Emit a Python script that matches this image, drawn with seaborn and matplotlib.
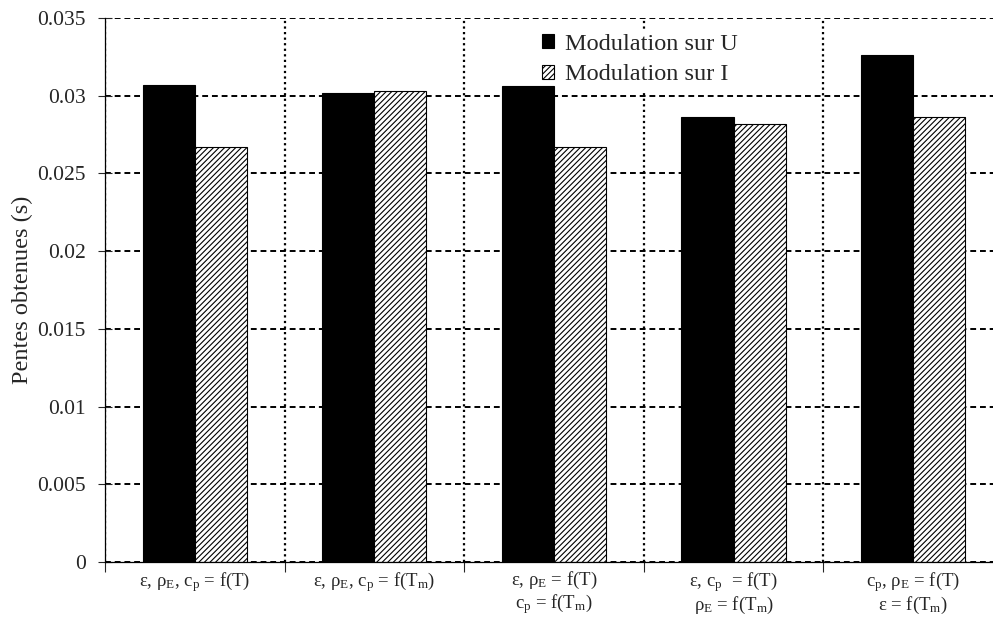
import pandas as pd
import matplotlib
matplotlib.use("Agg")
import matplotlib.pyplot as plt
import seaborn as sns
from matplotlib.ticker import FuncFormatter, FixedLocator

# --- Données ---
categories = [
    r"ε, ρ$_{\rm E}$, c$_{\rm p}$ = f(T)",
    r"ε, ρ$_{\rm E}$, c$_{\rm p}$ = f(T$_{\rm m}$)",
    "ε, ρ$_{\\rm E}$ = f(T)\nc$_{\\rm p}$ = f(T$_{\\rm m}$)",
    "ε, c$_{\\rm p}$  = f(T)\nρ$_{\\rm E}$ = f(T$_{\\rm m}$)",
    "c$_{\\rm p}$, ρ$_{\\rm E}$ = f(T)\nε = f(T$_{\\rm m}$)",
]
series = ["Modulation sur U", "Modulation sur I"]
pente_u = [0.0307, 0.0302, 0.0306, 0.0286, 0.0326]
pente_i = [0.0267, 0.0303, 0.0267, 0.0282, 0.0286]
yticks = [0, 0.005, 0.01, 0.015, 0.02, 0.025, 0.03, 0.035]

df = pd.DataFrame({
    "cat": categories * 2,
    "serie": [series[0]] * len(categories) + [series[1]] * len(categories),
    "pente": pente_u + pente_i,
})

sns.set_theme(style="white")
plt.rcParams["font.family"] = ["Liberation Serif", "DejaVu Serif"]
plt.rcParams["mathtext.fontset"] = "custom"
plt.rcParams["mathtext.rm"] = "Liberation Serif"
plt.rcParams["mathtext.it"] = "Liberation Serif:italic"
plt.rcParams["hatch.linewidth"] = 0.8

fig = plt.figure(figsize=(9.93, 6.17), dpi=100)
ax = fig.add_axes([0.1057, 0.0891, 0.9043, 0.8817])

sns.barplot(data=df, x="cat", y="pente", hue="serie", order=categories,
            hue_order=series, palette=["black", "white"], width=0.58,
            edgecolor="black", linewidth=0.8, saturation=1, legend=False, ax=ax)

for p in ax.containers[1]:
    p.set_hatch("//////")

ax.set_ylim(0, 0.035)
ax.set_xlim(-0.5, len(categories) - 0.5)
ax.set_yticks(yticks)
ax.yaxis.set_major_formatter(FuncFormatter(lambda v, _: f"{v:g}"))
ax.tick_params(axis="y", labelsize=15.5, direction="inout", length=10, width=0.8,
               left=True, pad=9)
ax.tick_params(axis="x", which="major", length=0, labelsize=13.5, pad=6)
for lab in ax.get_xticklabels():
    lab.set_linespacing(1.05)
ax.xaxis.set_minor_locator(FixedLocator([i + 0.5 for i in range(len(categories))] + [-0.5]))
ax.tick_params(axis="x", which="minor", bottom=True, direction="out",
               length=7, width=0.8)

ax.grid(axis="y", which="major", color="black", linestyle=(0, (3, 2)), linewidth=1.4)
ax.grid(axis="x", which="minor", color="black", linestyle=(0, (1, 1.5)), linewidth=1.6)
ax.set_axisbelow(True)

for s in ["top", "right"]:
    ax.spines[s].set_visible(False)
for s in ["left", "bottom"]:
    ax.spines[s].set_color("black")
    ax.spines[s].set_linewidth(0.9)
    ax.spines[s].set_zorder(5)

ax.set_xlabel("")
ax.set_ylabel("Pentes obtenues (s)", fontsize=17.5, labelpad=3)

# légende sur fond blanc : cache la grille mais reste sous les barres
leg = ax.legend(ax.containers, series, loc="upper left", bbox_to_anchor=(0.481, 0.98),
                frameon=True, fontsize=17.5, handlelength=0.5, handleheight=0.5,
                handletextpad=0.45, labelspacing=0.4, borderaxespad=0.0,
                borderpad=0.2, fancybox=False, framealpha=1)
leg.get_frame().set_facecolor("white")
leg.get_frame().set_edgecolor("none")
leg.set_zorder(0.9)

fig.savefig("out.png", dpi=100)
